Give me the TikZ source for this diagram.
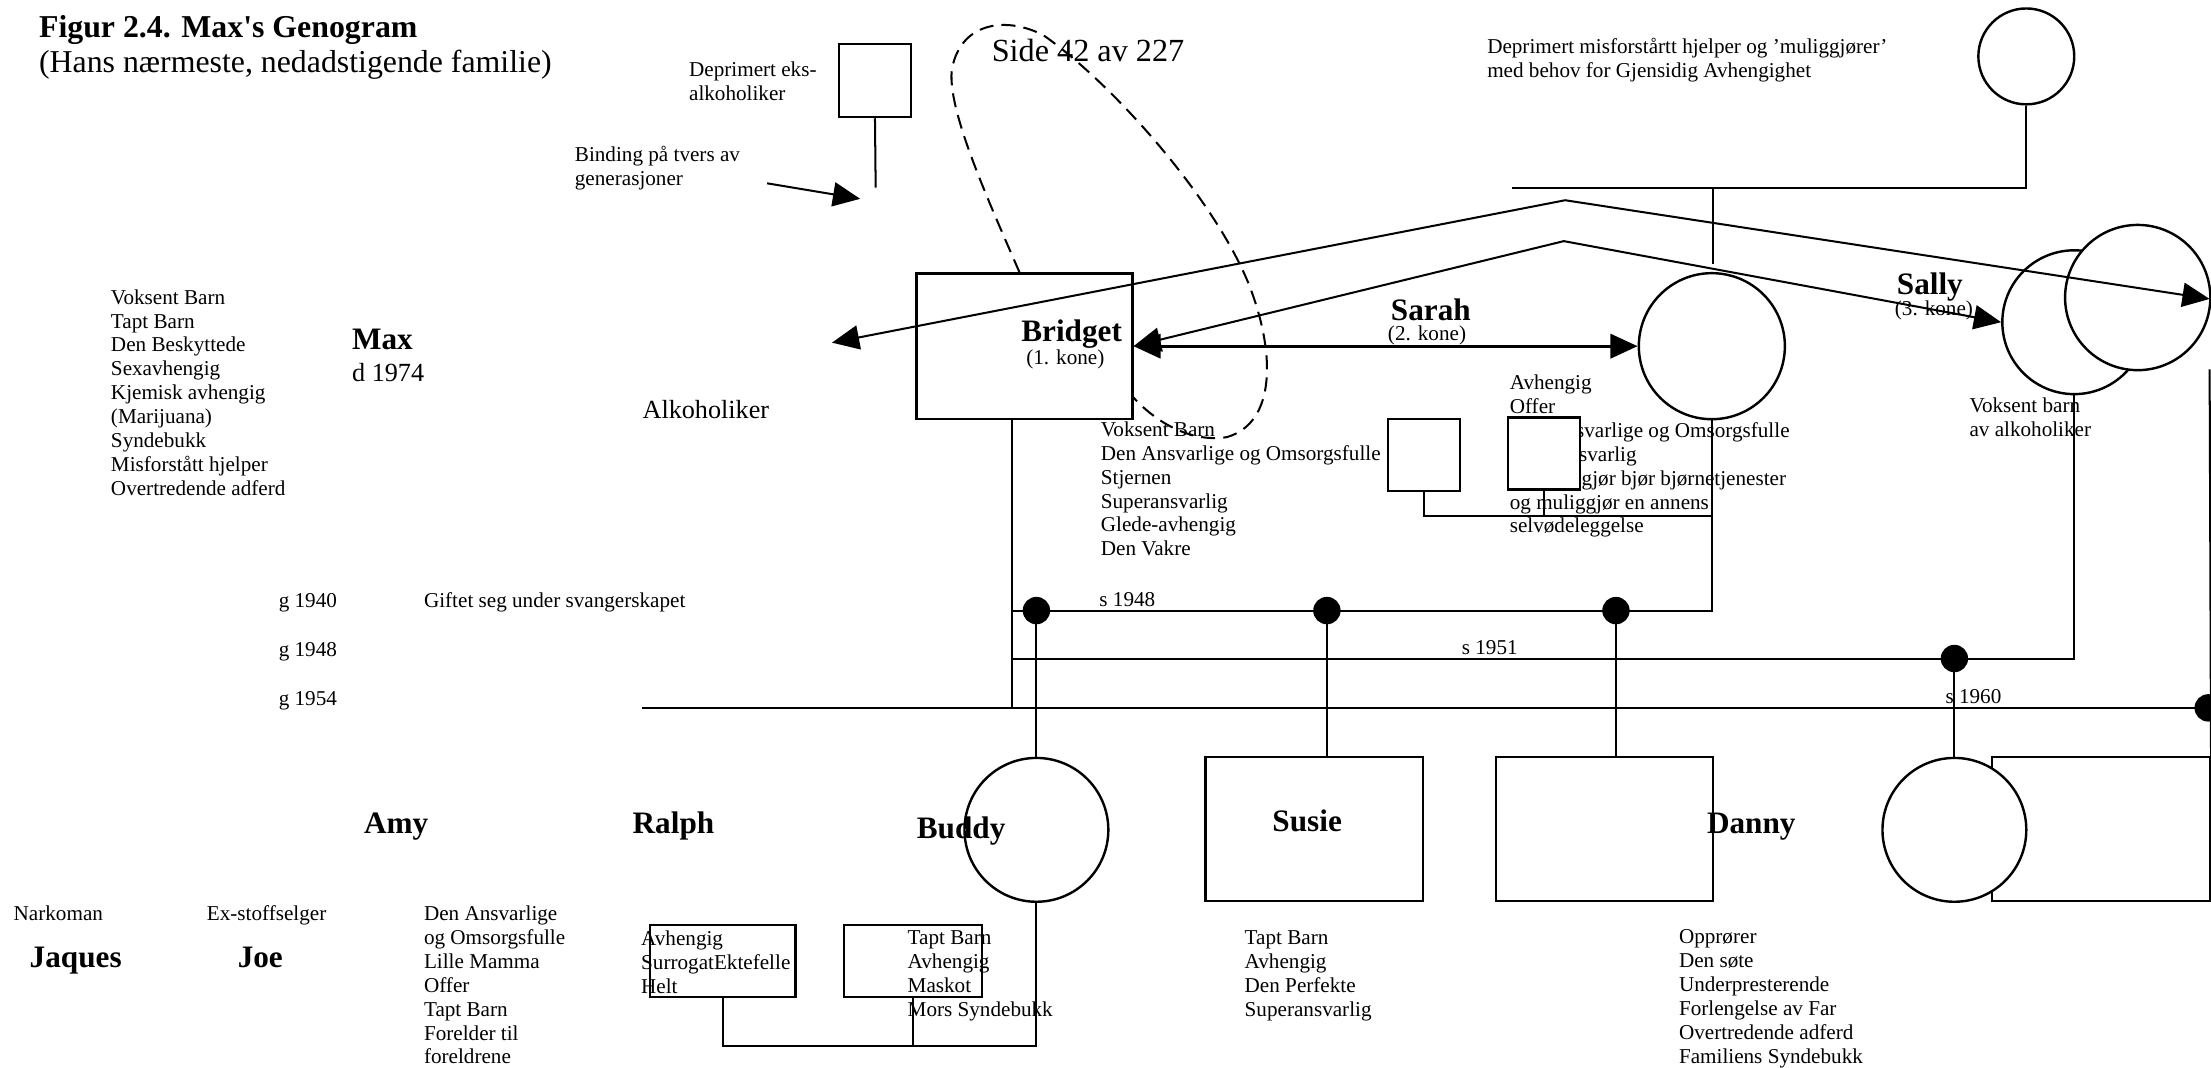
\documentclass[tikz,border=0pt]{standalone}
\usepackage{fontspec}
\setmainfont{Liberation Serif}
\usepackage{tikz}
\usetikzlibrary{arrows.meta,calc}

\begin{document}
\begin{tikzpicture}[x=0.7pt,y=-0.7pt,line width=1pt,
  person/.style={draw,line width=1.2pt,inner sep=0pt},
  sq/.style={person,rectangle},
  rnd/.style={person,circle},
  dot/.style={circle,fill,inner sep=0pt,minimum size=13.6pt},
  small/.style={font=\fontsize{10.5}{11.85}\selectfont,inner sep=0pt},
  roles/.style={small,align=left,anchor=north west},
  lbl/.style={small,anchor=base west},
  nm/.style={font=\fontsize{15.5}{18}\selectfont\bfseries,inner sep=0pt,anchor=base},
  kone/.style={small,anchor=base},
  big/.style={font=\fontsize{13}{15}\selectfont,inner sep=0pt,anchor=base west},
  arr/.style={-{Triangle[length=13.5pt,width=12pt]}},
  arrs/.style={{Triangle[length=13.5pt,width=12pt]}-{Triangle[length=13.5pt,width=12pt]}}]
\useasboundingbox (0,0) rectangle (1568,757);

\node [anchor=north west,align=left,inner sep=0pt,font=\fontsize{15.8}{17.6}\selectfont] (title) at (27,10.2) {\textbf{Figur 2.4. Max\textquotesingle s Genogram}\\(Hans nærmeste, nedadstigende familie)};
\node [anchor=base,inner sep=0pt,font=\fontsize{16}{19}\selectfont] (side) at (771.6,43.7) {Side 42 av 227};
\node [roles] (exnote) at (488,43) {Deprimert eks-\\alkoholiker};
\node [roles] (binding) at (407,103.2) {Binding på tvers av\\generasjoner};
\node [roles] (topnote) at (1054,26.4) {Deprimert misforstårtt hjelper og ’muliggjører’\\med behov for Gjensidig Avhengighet};

% Max
\node [roles] (maxroles) at (78,204.6) {Voksent Barn\\Tapt Barn\\Den Beskyttede\\Sexavhengig\\Kjemisk avhengig\\(Marijuana)\\Syndebukk\\Misforstått hjelper\\Overtredende adferd};
\node [nm,anchor=base west] (max) at (249,248) {Max};
\node [big] (maxd) at (249,270.7) {d 1974};
\node [big] (alko) at (455,296.7) {Alkoholiker};

% koner
\node [nm] (bridgetname) at (760,242.3) {Bridget};
\node [kone] (bridgetkone) at (755.5,258.5) {(1. kone)};
\node [nm] (sarahname) at (1014.7,227) {Sarah};
\node [kone] (sarahkone) at (1012,241.5) {(2. kone)};
\node [nm] (sallyname) at (1368.6,209) {Sally};
\node [kone] (sallykone) at (1371.5,224) {(3. kone)};
\node [roles] (bridgetroles) at (780,298.4) {Voksent Barn\\Den Ansvarlige og Omsorgsfulle\\Stjernen\\Superansvarlig\\Glede-avhengig\\Den Vakre};
\node [roles] (sarahroles) at (1070,265.2) {Avhengig\\Offer\\Den Ansvarlige og Omsorgsfulle\\Superansvarlig\\\hspace*{3.4em}gjør bjør bjørnetjenester\\og muliggjør en annens\\selvødeleggelse};
\node [roles] (sallyroles) at (1396,281.6) {Voksent barn\\av alkoholiker};

\node [lbl] (g40) at (197,431) {g 1940};
\node [lbl] (giftet) at (300,430.5) {Giftet seg under svangerskapet};
\node [lbl] (g48) at (197,465.7) {g 1948};
\node [lbl] (g54) at (197,500) {g 1954};
\node [lbl] (s48) at (779,430) {s 1948};
\node [lbl] (s51) at (1036,464.5) {s 1951};
\node [lbl] (s60) at (1379,499) {s 1960};

% barn
\node [nm] (amy) at (281,591) {Amy};
\node [nm] (ralph) at (477.6,591) {Ralph};
\node [nm] (buddyname) at (681.6,594.5) {Buddy};
\node [nm] (susiename) at (927,590) {Susie};
\node [nm] (dannyname) at (1242,591) {Danny};
\node [lbl] (narkoman) at (9,653) {Narkoman};
\node [lbl] (exstoff) at (146,653) {Ex-stoffselger};
\node [nm] (jaques) at (53.7,686) {Jaques};
\node [nm] (joe) at (184.6,686) {Joe};
\node [roles] (amyroles) at (300,641.8) {Den Ansvarlige\\og Omsorgsfulle\\Lille Mamma\\Offer\\Tapt Barn\\Forelder til\\foreldrene};
\node [roles] (ralphroles) at (454,659.6) {Avhengig\\SurrogatEktefelle\\Helt};
\node [roles] (buddyroles) at (643,659.6) {Tapt Barn\\Avhengig\\Maskot\\Mors Syndebukk};
\node [roles] (susieroles) at (882,659.6) {Tapt Barn\\Avhengig\\Den Perfekte\\Superansvarlig};
\node [roles] (dannyroles) at (1190,658.8) {Opprører\\Den søte\\Underpresterende\\Forlengelse av Far\\Overtredende adferd\\Familiens Syndebukk};

% personer
\node [sq,minimum width=35.7pt,minimum height=36.4pt] (exbox) at (620.5,57) {};
\node [rnd,minimum size=47.6pt] (topc) at (1437,40) {};
\node [sq,minimum width=107.1pt,minimum height=72.1pt] (bridget) at (726.5,245.5) {};
\node [rnd,minimum size=72.5pt] (sarah) at (1214,245.5) {};
\node [rnd,minimum size=71.4pt] (sally) at (1471,228.5) {};
\node [rnd,fill=white,minimum size=72.1pt] (sally2) at (1516,211) {};
\node [sq,fill=white,minimum size=35.7pt] (sq1) at (1010,322.5) {};
\node [sq,fill=white,minimum size=35.7pt] (sq2) at (1095,321.5) {};
\node [rnd,minimum size=71.4pt] (buddy) at (735,588.5) {};
\node [sq,minimum width=107.8pt,minimum height=71.4pt] (susie) at (932,588) {};
\node [sq,minimum width=107.8pt,minimum height=71.4pt] (danny) at (1138,588) {};
\node [sq,minimum width=108pt,minimum height=71.4pt] (rbox) at (1490,588) {};
\node [rnd,fill=white,minimum size=71.4pt] (kid) at (1386,588.5) {};
\node [sq,minimum width=72.1pt,minimum height=35.7pt] (ralphbox) at (512.5,681.5) {};
\node [sq,minimum width=68.6pt,minimum height=35.7pt] (budbox) at (647.5,681.5) {};

\coordinate (exfoot) at (621,133);
\coordinate (bindtail) at (544,130);
\coordinate (bindtip) at (610,141);
\coordinate (topR) at (1437,133);
\coordinate (topL) at (1072,133);
\coordinate (topM) at (1215,133);
\coordinate (topMend) at (1215,187);
\coordinate (peakA) at (1110,142);
\coordinate (tipAL) at (590,243);
\coordinate (tipAR) at (1567,212);
\coordinate (peakB) at (1109,171);
\coordinate (s48L) at (718,433);
\coordinate (s48R) at (1214,433);
\coordinate (s51L) at (718,467);
\coordinate (s51R) at (1471,467);
\coordinate (g54L) at (455,502);
\coordinate (g54R) at (1567,502);
\coordinate (rtop) at (1567,262);
\coordinate (sqjoin) at (1214,366);
\coordinate (budjoin) at (735,742);

\draw (exbox.south) -- (exfoot);
\draw [arr] (bindtail) -- (bindtip);
\draw (topc.south) -- (topR) -- (topL);
\draw (topM) -- (topMend);

% binding paa tvers
\draw [dashed,dash pattern=on 7pt off 4pt] (bridget.north -| 723,0) .. controls (700,140) and (668,70) .. (676,45)
  .. controls (684,15) and (715,12) .. (740,25) .. controls (790,60) and (860,140) .. (885,200)
  .. controls (905,250) and (905,300) .. (870,310) .. controls (845,314) and (820,300) .. (803,281);

\draw [arrs] (tipAL) -- (peakA) -- (tipAR);
\draw [arrs] (bridget.east) -- (peakB) -- (sally.west);
\draw [arrs,line width=1.6pt] (bridget.east) -- (sarah.west);

\draw (bridget.south -| s48L) -- (g54L -| s48L);
\draw (s48L) -- (s48R) -- (sarah.south);
\draw (s51L) -- (s51R) -- (sally.south);
\draw (g54L) -- (g54R);
\draw (rtop) -- (rbox.north east);
\draw (sq1.south) -- (sq1.south |- sqjoin) -- (sqjoin);
\draw (sq2.south) -- (sq2.south |- sqjoin);

\node [dot] (d1) at (735,433) {};
\node [dot] (d2) at (941,433) {};
\node [dot] (d3) at (1146,433) {};
\node [dot] (d4) at (1386,467) {};
\node [dot] (d5) at (1566,502) {};
\draw (d1.center) -- (buddy.north);
\draw (d2.center) -- (d2 |- susie.north);
\draw (d3.center) -- (d3 |- danny.north);
\draw (d4.center) -- (kid.north);

\draw (buddy.south) -- (budjoin) -- (budjoin -| ralphbox.south) -- (ralphbox.south);
\draw (budbox.south) -- (budbox.south |- budjoin);

\end{tikzpicture}
\end{document}
